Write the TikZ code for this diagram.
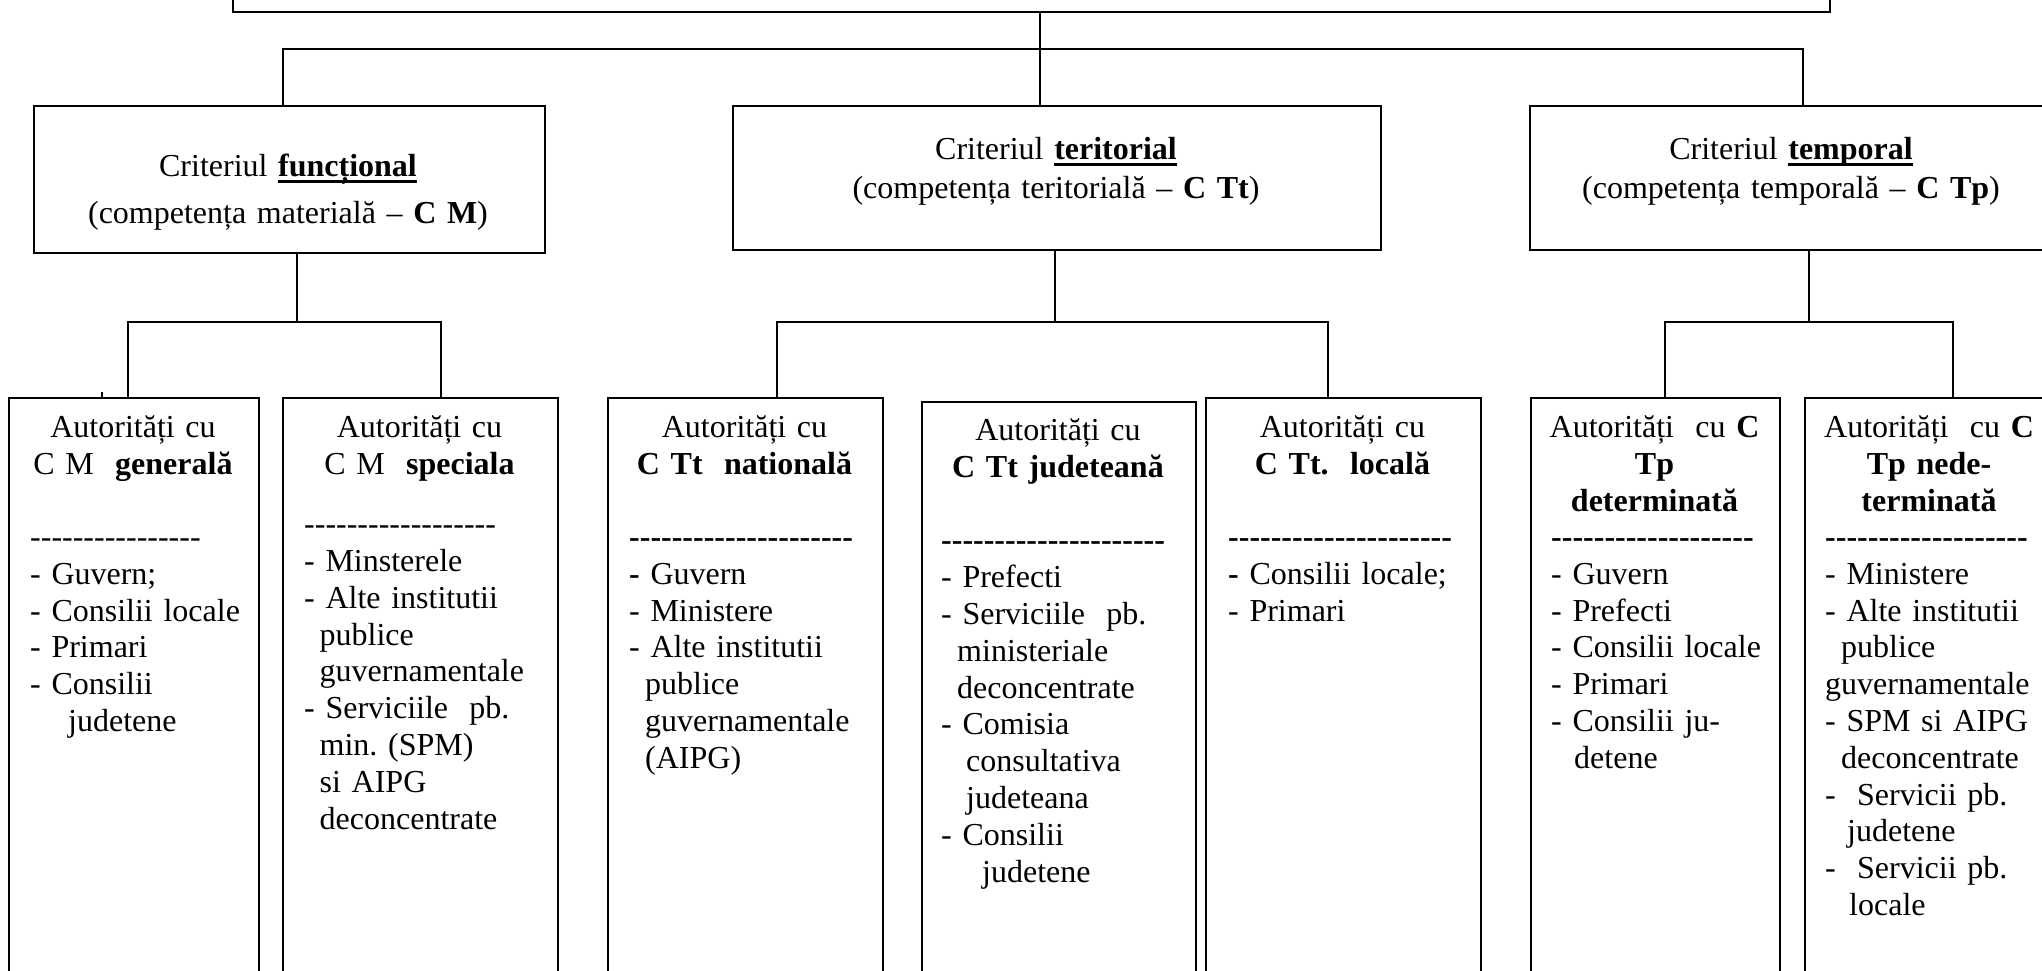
\documentclass[tikz,border=0pt]{standalone}
\usepackage{fontspec}
\setmainfont{Liberation Serif}[Ligatures=TeXOff]
\newcommand\fs{\fontsize{32}{36.8}\selectfont\frenchspacing}
\newsavebox\ulsbox
\newcommand\ulbf[1]{\sbox\ulsbox{\textbf{#1}}\rlap{\rule[-6pt]{\wd\ulsbox}{2.8pt}}\usebox\ulsbox}
\tikzset{
  box/.style={draw, line width=2pt, inner sep=0pt, anchor=north west},
  conn/.style={line width=1.9pt},
  hdr/.style={anchor=base, align=center, inner sep=0pt, text width=240pt, font=\fs},
  lst/.style={anchor=base west, align=left, inner sep=0pt, text width=262pt, font=\fs},
  crit/.style={anchor=base, align=center, inner sep=0pt, text width=560pt},
}
\begin{document}
\frenchspacing
\begin{tikzpicture}[x=1pt,y=-1pt]
\useasboundingbox (0,0) rectangle (2042,971);
\clip (0,0) rectangle (2042,971);

% top box (only its bottom is visible)
\node[box, minimum width=1597pt, minimum height=71pt] (top) at (232,-60) {};

% criterion boxes
\node[box, minimum width=511pt, minimum height=147pt] (fun) at (32.5,105) {};
\node[box, minimum width=648pt, minimum height=144pt] (ter) at (732,105) {};
\node[box, minimum width=524pt, minimum height=144pt] (tem) at (1529,105) {};

\node[crit, font=\fontsize{32}{47.3}\selectfont\frenchspacing] (funt) at (288,176.7)
  {Criteriul \ulbf{funcțional}\\(competența materială – \textbf{C M})};
\node[crit, font=\fontsize{32}{38.8}\selectfont\frenchspacing] (tert) at (1056,159.5)
  {Criteriul \ulbf{teritorial}\\(competența teritorială – \textbf{C Tt})};
\node[crit, font=\fontsize{32}{38.8}\selectfont\frenchspacing] (temt) at (1791,159.5)
  {Criteriul \ulbf{temporal}\\(competența temporală – \textbf{C Tp})};

% bottom boxes
\node[box, minimum width=250pt, minimum height=620pt] (b1) at (8.4,397) {};
\node[box, minimum width=275pt, minimum height=620pt] (b2) at (282,397) {};
\node[box, minimum width=275pt, minimum height=620pt] (b3) at (607,397) {};
\node[box, minimum width=274pt, minimum height=620pt] (b4) at (921,401) {};
\node[box, minimum width=275pt, minimum height=620pt] (b5) at (1205,397) {};
\node[box, minimum width=249pt, minimum height=620pt] (b6) at (1530,397) {};
\node[box, minimum width=250pt, minimum height=620pt] (b7) at (1804,397) {};

% box 1
\node[hdr] (h1) at (133,437.4) {Autorități cu\\C M~ \textbf{generală}};
\node[lst] (l1) at (30,547.4) {----------------\\- Guvern;\\- Consilii locale\\- Primari\\- Consilii\\\hspace*{38pt}judetene};
% box 2
\node[hdr] (h2) at (419.5,437.4) {Autorități cu\\C M~ \textbf{speciala}};
\node[lst] (l2) at (304,534.7) {------------------\\- Minsterele\\- Alte institutii\\\hspace*{15.5pt}publice\\\hspace*{15.5pt}guvernamentale\\- Serviciile~ pb.\\\hspace*{15.5pt}min. (SPM)\\\hspace*{15.5pt}si AIPG\\\hspace*{15.5pt}deconcentrate};
% box 3
\node[hdr] (h3) at (744.5,437.4) {Autorități cu\\\textbf{C Tt~ natională}};
\node[lst] (l3) at (629,547.4) {\textbf{---------------------}\\\textbf{-} Guvern\\- Ministere\\- Alte institutii\\\hspace*{16pt}publice\\\hspace*{16pt}guvernamentale\\\hspace*{16pt}(AIPG)};
% box 4
\node[hdr] (h4) at (1058,440.9) {Autorități cu\\\textbf{C Tt judeteană}};
\node[lst] (l4) at (941,550.9) {\textbf{---------------------}\\- Prefecti\\- Serviciile~ pb.\\\hspace*{16pt}ministeriale\\\hspace*{16pt}deconcentrate\\- Comisia\\\hspace*{25pt}consultativa\\\hspace*{25pt}judeteana\\- Consilii\\\hspace*{41pt}judetene};
% box 5
\node[hdr] (h5) at (1342.5,437.4) {Autorități cu\\\textbf{C Tt.~ locală}};
\node[lst] (l5) at (1228,547.4) {\textbf{---------------------}\\\textbf{-} Consilii locale;\\- Primari};
% box 6
\node[hdr] (h6) at (1654.5,437.4) {Autorități~ cu \textbf{C}\\\textbf{Tp}\\\textbf{determinată}};
\node[lst] (l6) at (1551,547.4) {\textbf{-------------------}\\- Guvern\\- Prefecti\\- Consilii locale\\- Primari\\- Consilii ju-\\\hspace*{23pt}detene};
% box 7
\node[hdr] (h7) at (1929,437.4) {Autorități~ cu \textbf{C}\\\textbf{Tp nede-}\\\textbf{terminată}};
\node[lst] (l7) at (1825,547.4) {\textbf{-------------------}\\- Ministere\\- Alte institutii\\\hspace*{16pt}publice\\guvernamentale\\- SPM si AIPG\\\hspace*{16pt}deconcentrate\\-~ Servicii pb.\\\hspace*{22pt}judetene\\-~ Servicii pb.\\\hspace*{24pt}locale};

% connectors
\coordinate (t1) at (1040,0);
\draw[conn] (top.south -| t1) -- (t1 |- ter.north);
\coordinate (bl) at (283,49);
\coordinate (br) at (1803,49);
\draw[conn] (bl |- fun.north) -- (bl) -- (br) -- (br |- tem.north);

\coordinate (fv) at (297,322);
\coordinate (fl) at (128,322);
\coordinate (fr) at (441,322);
\draw[conn] (fv |- fun.south) -- (fv);
\draw[conn] (fl |- b1.north) -- (fl) -- (fr) -- (fr |- b2.north);
\coordinate (tick) at (102,392);
\draw[conn] (tick) -- (tick |- b1.north);

\coordinate (tv) at (1055,322);
\coordinate (tl) at (777,322);
\coordinate (tr) at (1328,322);
\draw[conn] (tv |- ter.south) -- (tv);
\draw[conn] (tl |- b3.north) -- (tl) -- (tr) -- (tr |- b5.north);

\coordinate (pv) at (1809,322);
\coordinate (pl) at (1665,322);
\coordinate (pr) at (1953,322);
\draw[conn] (pv |- tem.south) -- (pv);
\draw[conn] (pl |- b6.north) -- (pl) -- (pr) -- (pr |- b7.north);
\end{tikzpicture}
\end{document}
